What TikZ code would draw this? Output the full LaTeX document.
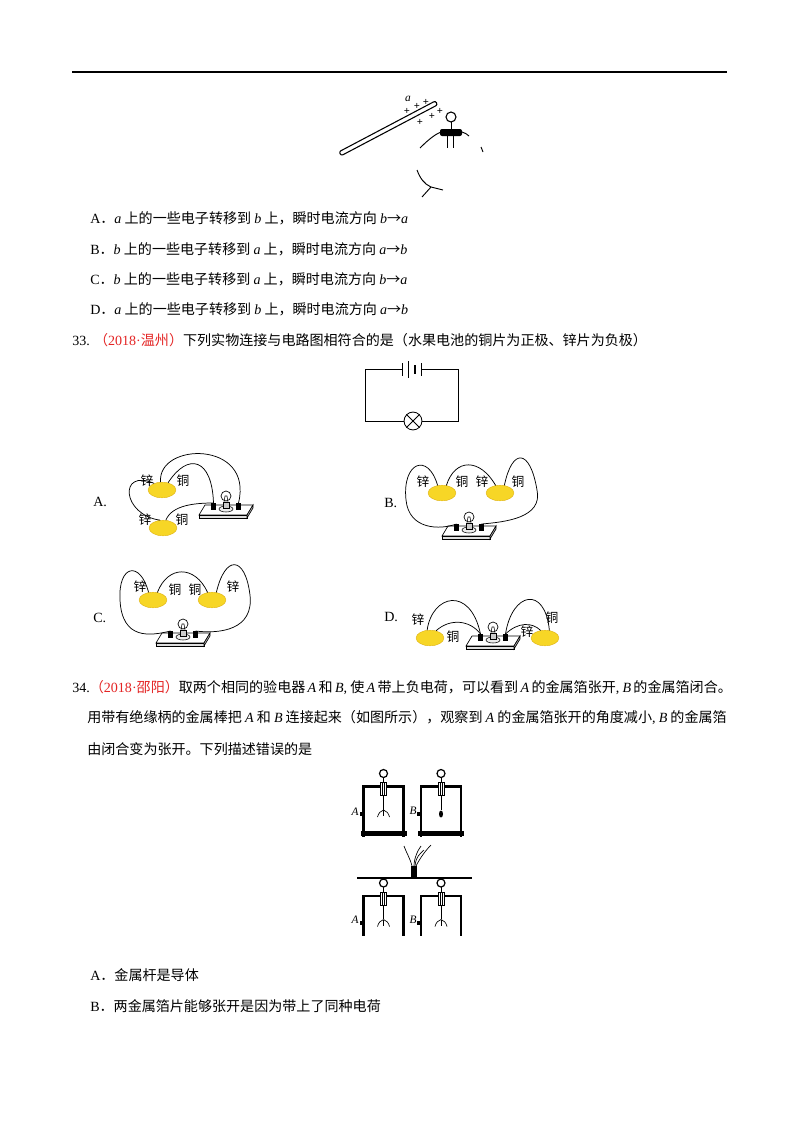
\documentclass[tikz,border=0pt]{standalone}
\usepackage{fontspec}
\setmainfont{Liberation Serif}
\newfontfamily\cjk{Noto Sans CJK SC}
\usetikzlibrary{shapes.geometric,positioning}
\definecolor{qred}{RGB}{228,36,36}
\definecolor{lemonc}{RGB}{247,214,38}
\definecolor{lemond}{RGB}{222,178,20}
\newcommand\vb[1]{{\rmfamily\itshape #1}}
\newcommand\zi[1]{{\rmfamily #1}}
\tikzset{
  txt/.style={anchor=west,inner sep=0pt,font=\cjk\fontsize{10.5}{12}\selectfont},
  lbl/.style={inner sep=0pt,font=\cjk\fontsize{9.5}{10}\selectfont},
  let/.style={inner sep=0pt,font=\rmfamily\itshape\fontsize{8.5}{9}\selectfont},
  lemon/.style={ellipse,fill=lemonc,draw=lemond,line width=0.3pt,inner sep=0pt,minimum width=7.3mm,minimum height=4.1mm},
  wire/.style={line width=0.55pt},
  frame/.style={line width=2.2pt},
  board/.pic={
    \draw[line width=0.5pt,fill=white] (-21,-5) -- (27,-5) -- (21,5) -- (-27,5) -- cycle;
    \draw[line width=0.5pt,fill=gray!25] (-27,5) -- (21,5) -- (21,8) -- (-27,8) -- cycle;
    \draw[line width=0.5pt,fill=gray!45] (21,5) -- (27,-5) -- (27,-2) -- (21,8) -- cycle;
    \draw[line width=0.4pt,fill=gray!15] (0,-1) ellipse [x radius=7,y radius=3];
    \draw[line width=0.5pt,fill=gray!40] (-3,-2) rectangle (3,-8);
    \draw[line width=0.5pt,fill=white] (0,-14) circle [radius=5];
    \draw[line width=0.4pt] (-2,-8) -- (-1,-14) -- (1,-14) -- (2,-8);
    \fill (-15,-7) rectangle (-10,0);
    \fill (10,-7) rectangle (15,0);
    \coordinate (-l) at (-12.5,-7);
    \coordinate (-r) at (12.5,-7);
  },
  escope/.pic={
    \draw[frame] (-20,50) -- (-20,0) -- (20,0) -- (20,50);
    \fill (-23,44) rectangle (23,49);
    \fill (-24,25) rectangle (-21,29);
    \draw[line width=0.6pt] (0,-9) -- (0,23);
    \draw[line width=0.5pt,fill=white] (-3,-4) rectangle (3,9);
    \draw[line width=0.5pt] (-1,-4) -- (-1,9) (1,-4) -- (1,9);
    \draw[line width=0.9pt,fill=white] (0,-13) circle [radius=4];
  },
  leafo/.pic={
    \draw[line width=0.5pt] (0,0) -- (0,6);
    \draw[line width=0.5pt] (0,0) .. controls (-3,1) and (-5,3) .. (-6,7);
    \draw[line width=0.5pt] (0,0) .. controls (3,1) and (5,3) .. (6,7);
  },
  leafc/.pic={
    \fill (0,4) ellipse [x radius=2,y radius=3.5];
  }
}

\begin{document}
\begin{tikzpicture}[x=0.2625mm,y=-0.2625mm]
\fill[white] (0,0) rectangle (800,1132);
\useasboundingbox (0,0) rectangle (800,1132);
\draw[line width=1.1pt] (72,72) -- (727,72);

% rod and electroscope (q32)
\draw[line width=0.8pt,rounded corners=1.5,rotate around={27.8:(342,153)}] (340,150.5) rectangle (449,155);
\node[let] (a) at (408,99) {a};
\foreach \x/\y [count=\i] in {407/111,417/106,426/102,440/111,432/116,420/122}
  \node[inner sep=0pt,font=\bfseries\fontsize{8}{8}\selectfont] (p\i) at (\x,\y) {+};
\draw[line width=0.8pt] (451,117) circle [radius=5];
\draw[line width=0.6pt] (451,122) -- (451,129);
\fill[rounded corners=1.5] (440,129) rectangle (462,136);
\draw[line width=0.7pt] (447,136) -- (447,148) (453,136) -- (453,148);
\draw[line width=0.7pt] (420,148) .. controls (430,138) and (436,134) .. (441,132);
\draw[line width=0.7pt] (462,132) .. controls (465,133) and (467,134) .. (469,136);
\draw[line width=0.7pt] (481,147) -- (483,152);
\draw[line width=0.7pt] (417,170) .. controls (420,178) and (424,184) .. (431,187) -- (443,190) (431,187) -- (422,197);

% options
\node[txt] (oA) at (90,218) {\zi{A}．\vb{a} 上的一些电子转移到 \vb{b} 上，瞬时电流方向 \vb{b}→\vb{a}};
\node[txt] (oB) at (90,249) {\zi{B}．\vb{b} 上的一些电子转移到 \vb{a} 上，瞬时电流方向 \vb{a}→\vb{b}};
\node[txt] (oC) at (90,279) {\zi{C}．\vb{b} 上的一些电子转移到 \vb{a} 上，瞬时电流方向 \vb{b}→\vb{a}};
\node[txt] (oD) at (90,309) {\zi{D}．\vb{a} 上的一些电子转移到 \vb{b} 上，瞬时电流方向 \vb{a}→\vb{b}};
\node[txt] (q33) at (72,340) {\zi{33.}\hspace{0.3em}{\color{qred}（\zi{2018·}温州）}下列实物连接与电路图相符合的是（水果电池的铜片为正极、锌片为负极）};

% circuit diagram
\node[circle,draw,line width=0.6pt,minimum size=4.7mm,inner sep=0pt] (lamp) at (413,421) {};
\draw[line width=0.6pt] (lamp.north west) -- (lamp.south east) (lamp.north east) -- (lamp.south west);
\draw[line width=0.6pt] (402,369) -- (365,369) -- (365,421) -- (lamp.west);
\draw[line width=0.6pt] (lamp.east) -- (458,421) -- (458,369) -- (421,369);
\draw[line width=0.6pt] (402,363) -- (402,376);
\draw[line width=0.6pt] (408,361) -- (408,378);
\draw[line width=1.8pt] (415,365) -- (415,374);
\draw[line width=0.6pt] (421,363) -- (421,376);

% circuit A
\node[txt] (xA) at (93,502) {\zi{A.}};
\node[lemon] (lA1) at (162,490) {};
\node[lemon] (lA2) at (163,528) {};
\node[lbl] (zA1) at (147,481) {锌};
\node[lbl] (cA1) at (183,481) {铜};
\node[lbl] (zA2) at (145,520) {锌};
\node[lbl] (cA2) at (182,520) {铜};
\pic (bA) at (226,510) {board};
\draw[wire] (lA1.100) .. controls (157,442) and (254,440) .. (bA-r);
\draw[wire] (lA1.50) .. controls (188,452) and (212,458) .. (bA-l);
\draw[wire] (lA1.140) .. controls (118,468) and (122,515) .. (lA2.110);
\draw[wire] (lA2.70) .. controls (172,505) and (195,503) .. (bA-l);

% circuit B
\node[txt] (xB) at (384,503) {\zi{B.}};
\node[lemon] (lB1) at (442,493) {};
\node[lemon] (lB2) at (500,493) {};
\node[lbl] (zB1) at (423,482) {锌};
\node[lbl] (cB1) at (462,482) {铜};
\node[lbl] (zB2) at (482,482) {锌};
\node[lbl] (cB2) at (518,482) {铜};
\pic (bB) at (469,531) {board};
\draw[wire] (lB1.120) .. controls (428,452) and (402,462) .. (406,500) .. controls (409,530) and (440,530) .. (bB-l);
\draw[wire] (lB1.60) .. controls (455,458) and (480,458) .. (lB2.120);
\draw[wire] (lB2.60) .. controls (512,448) and (530,448) .. (537,490) .. controls (543,518) and (505,522) .. (bB-r);

% circuit C
\node[txt] (xC) at (93,618) {\zi{C.}};
\node[lemon] (lC1) at (153,600) {};
\node[lemon] (lC2) at (212,600) {};
\node[lbl] (zC1) at (140,587) {锌};
\node[lbl] (cC1) at (175,590) {铜};
\node[lbl] (cC2) at (195,590) {铜};
\node[lbl] (zC2) at (233,587) {锌};
\pic (bC) at (183,638) {board};
\draw[wire] (lC1.120) .. controls (140,560) and (118,565) .. (120,600) .. controls (122,640) and (150,636) .. (bC-l);
\draw[wire] (lC1.60) .. controls (168,565) and (195,565) .. (lC2.120);
\draw[wire] (lC2.60) .. controls (225,555) and (245,555) .. (250,595) .. controls (254,630) and (220,634) .. (bC-r);

% circuit D
\node[txt] (xD) at (384,617) {\zi{D.}};
\node[lemon] (lD1) at (430,638) {};
\node[lemon] (lD2) at (545,638) {};
\node[lbl] (zD1) at (418,620) {锌};
\node[lbl] (cD1) at (453,637) {铜};
\node[lbl] (zD2) at (527,632) {锌};
\node[lbl] (cD2) at (552,618) {铜};
\pic (bD) at (493,641) {board};
\draw[wire] (lD1.110) .. controls (432,595) and (470,585) .. (bD-l);
\draw[wire] (lD1.50) .. controls (450,618) and (470,620) .. (bD-l);
\draw[wire] (bD-r) .. controls (512,592) and (545,585) .. (lD2.60);
\draw[wire] (bD-r) .. controls (518,622) and (532,622) .. (lD2.120);

% q34
\node[txt] (q34) at (72,688) {\zi{34.}{\color{qred}（\zi{2018·}邵阳）}取两个相同的验电器\,\vb{A}\,和\,\vb{B}\zi{,} 使\,\vb{A}\,带上负电荷，可以看到\,\vb{A}\,的金属箔张开\zi{,} \vb{B}\,的金属箔闭合。};
\node[txt] (q34b) at (87,718) {用带有绝缘柄的金属棒把 \vb{A} 和 \vb{B} 连接起来（如图所示），观察到 \vb{A} 的金属箔张开的角度减小\zi{,} \vb{B} 的金属箔};
\node[txt] (q34c) at (87,749) {由闭合变为张开。下列描述错误的是};

% electroscopes
\pic (eA1) at (383.5,786.5) {escope};
\pic (eB1) at (441,786.5) {escope};
\pic (fA1) at (383.5,810) {leafo};
\pic (fB1) at (441,810) {leafc};
\node[let] (tA1) at (355,812) {A};
\node[let] (tB1) at (413,811) {B};
\draw[line width=0.8pt] (357,878) -- (472,878);
\fill (411,866) rectangle (417,878);
\draw[line width=0.5pt] (412,866) .. controls (410,858) and (406,852) .. (404,846);
\draw[line width=0.5pt] (414,866) .. controls (414,858) and (418,850) .. (421,846);
\draw[line width=0.5pt] (416,866) .. controls (420,858) and (426,850) .. (431,845);
\draw[line width=0.5pt] (415,866) .. controls (416,856) and (420,854) .. (424,850);
\begin{scope}
\clip (330,860) rectangle (490,935);
\pic (eA2) at (383.5,896) {escope};
\pic (eB2) at (441,896) {escope};
\pic (fA2) at (383.5,919.5) {leafo};
\pic (fB2) at (441,919.5) {leafo};
\end{scope}
\node[let] (tA2) at (355,920) {A};
\node[let] (tB2) at (413,920) {B};

% options q34
\node[txt] (pA) at (90,975) {\zi{A}．金属杆是导体};
\node[txt] (pB) at (90,1006) {\zi{B}．两金属箔片能够张开是因为带上了同种电荷};
\end{tikzpicture}
\end{document}
